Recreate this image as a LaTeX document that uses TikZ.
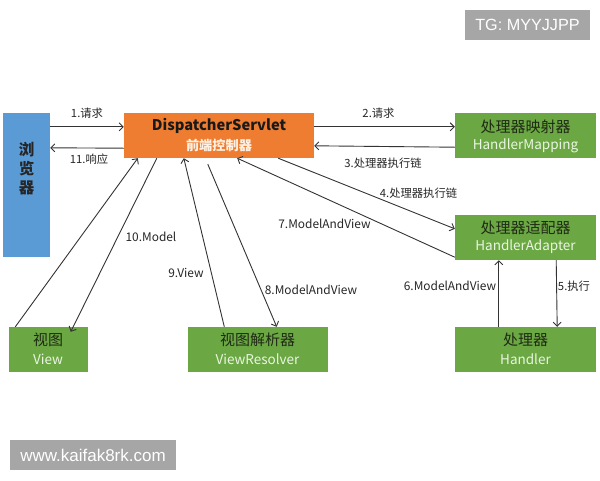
\documentclass[tikz,border=0pt]{standalone}
\usepackage{fontspec}
\setmainfont{Noto Sans CJK SC}
\newfontfamily\wmfont{Liberation Sans}
\usetikzlibrary{arrows.meta}
\definecolor{gbox}{HTML}{6BA843}
\definecolor{obox}{HTML}{EE7D31}
\definecolor{bbox}{HTML}{5B9BD5}
\definecolor{wm}{HTML}{A6A6A6}
\definecolor{lightg}{HTML}{EAF5E2}
\definecolor{ink}{HTML}{1F2A14}
\tikzset{
  x=1pt,y=-1pt,
  box/.style={rectangle,inner sep=0pt,minimum height=45pt,align=center,text=ink},
  green box/.style={box,fill=gbox},
  head/.style={inner sep=0pt,text=ink,font=\fontsize{15}{18}\selectfont},
  sub/.style={inner sep=0pt,text=lightg,font=\fontsize{13.5}{18}\selectfont},
  conn/.style={draw=black!80,line width=0.9pt,-{Straight Barb[length=4pt,width=8pt,line width=0.9pt]}},
  lbl/.style={inner sep=0pt,text=black!85,font=\fontsize{11.3}{13}\selectfont},
  lblw/.style={inner sep=0pt,text=black!85,font=\fontsize{11.9}{13}\selectfont},
  wmbox/.style={fill=wm,text=white,inner sep=0pt,minimum height=30pt}
}
\begin{document}
\begin{tikzpicture}
\useasboundingbox (0,0) rectangle (600,480);
\node[box,fill=bbox,minimum width=47pt,minimum height=144pt] (browser) at (26.5,185) {};
\node[inner sep=0pt,align=center,font=\bfseries\fontsize{15.5}{19}\selectfont,text=black!85] (browsertext) at (26.5,169) {浏\\览\\器};
\node[box,fill=obox,minimum width=190pt] (disp) at (219,135.5) {};
\node[inner sep=0pt,font=\bfseries\fontsize{14.7}{18}\selectfont,text=black!90] (disptitle) at (219,126) {DispatcherServlet};
\node[inner sep=0pt,font=\bfseries\fontsize{13.2}{15}\selectfont,text=white!90!orange] (dispsub) at (219,145.5) {前端控制器};

\node[green box,minimum width=141pt] (hm) at (525.5,135.5) {};
\node[head] (hm1) at (525.5,127) {处理器映射器};
\node[sub] (hm2) at (525.5,146) {HandlerMapping};

\node[green box,minimum width=141pt] (ha) at (525.5,237.5) {};
\node[head] (ha1) at (525.5,228) {处理器适配器};
\node[sub] (ha2) at (525.5,247) {HandlerAdapter};

\node[green box,minimum width=141pt] (h) at (525.5,349.5) {};
\node[head] (h1) at (525.5,340) {处理器};
\node[sub] (h2) at (525.5,359) {Handler};

\node[green box,minimum width=79pt] (v) at (48,349.5) {};
\node[head] (v1) at (48,340) {视图};
\node[sub] (v2) at (48,359) {View};

\node[green box,minimum width=140pt] (vr) at (257.5,349.5) {};
\node[head] (vr1) at (257.5,340) {视图解析器};
\node[sub] (vr2) at (257.5,359) {ViewResolver};

\draw[conn] ([yshift=-14pt]browser.north east) -- ([yshift=-14pt]disp.north west);
\draw[conn] ([yshift=10pt]disp.south west) -- ([yshift=-35pt]browser.north east);
\draw[conn] ([yshift=-14pt]disp.north east) -- ([yshift=-14pt]hm.north west);
\draw[conn] ([yshift=11pt]hm.south west) -- ([yshift=-33pt]disp.north east);
\draw[conn] ([xshift=-36pt]disp.south east) -- ([yshift=-14pt]ha.north west);
\draw[conn] ([yshift=3pt]ha.south west) -- ([xshift=-77pt]disp.south east);
\draw[conn] ([xshift=44pt]h.north west) -- ([xshift=44pt]ha.south west);
\draw[conn] ([xshift=-40pt]ha.south east) -- ([xshift=-39pt]h.north east);
\draw[conn] ([xshift=7pt]v.north west) -- ([xshift=14pt]disp.south west);
\draw[conn] ([xshift=33pt]disp.south west) -- ([xshift=-17pt,yshift=-5pt]v.north east);
\draw[conn] ([xshift=37pt]vr.north west) -- ([xshift=60pt]disp.south west);
\coordinate (eightstart) at ([xshift=84pt,yshift=-6pt]disp.south west);
\draw[conn] (eightstart) -- ([xshift=-51pt]vr.north east);

\node[lbl] (l1) at (87,113) {1.请求};
\node[lbl] (l11) at (89,159.5) {11.响应};
\node[lbl] (l2) at (378.5,113) {2.请求};
\node[lbl] (l3) at (383,163) {3.处理器执行链};
\node[lbl] (l4) at (418.5,193) {4.处理器执行链};
\node[lblw] (l7) at (324.5,224) {7.ModelAndView};
\node[lblw] (l10) at (151,237) {10.Model};
\node[lblw] (l9) at (186,273) {9.View};
\node[lblw] (l8) at (311,290) {8.ModelAndView};
\node[lblw] (l6) at (450,286) {6.ModelAndView};
\node[lbl] (l5) at (574,286) {5.执行};

\node[wmbox,minimum width=125pt,font=\wmfont\fontsize{16.2}{18}\selectfont] (tg) at (527.5,25) {TG: MYYJJPP};
\node[wmbox,minimum width=166pt,font=\wmfont\fontsize{17}{20}\selectfont] (site) at (93,455) {www.kaifak8rk.com};
\end{tikzpicture}
\end{document}
